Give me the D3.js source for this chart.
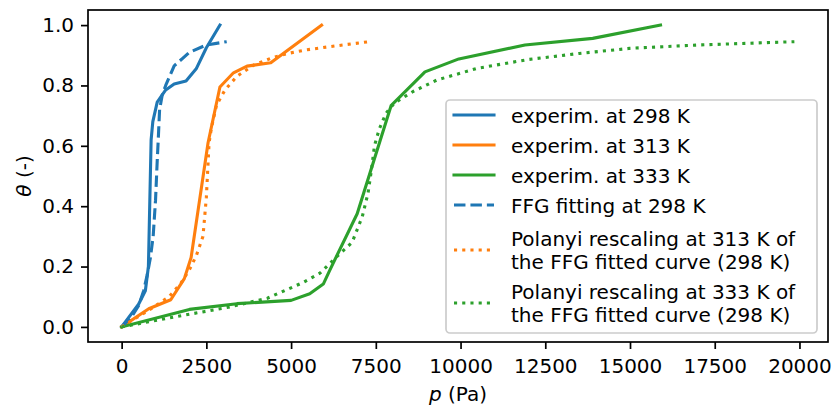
<!DOCTYPE html>
<html>
<head>
<meta charset="utf-8">
<script src="https://cdn.jsdelivr.net/npm/d3@7"></script>
<style>
  body { margin: 0; background: #fff; }
  text { font-family: "DejaVu Sans", sans-serif; }
</style>
</head>
<body>
<div id="chart"></div>
<script>
// Data (p in Pa, theta in -)
var p298 = [0, 500, 700, 790, 870, 920, 1050, 1300, 1550, 1900, 2200, 2500, 2900];
var theta298 = [0, 0.075, 0.12, 0.2, 0.62, 0.68, 0.745, 0.785, 0.805, 0.815, 0.855, 0.925, 1.0];

var p313 = [0, 800, 1450, 1850, 2050, 2550, 2900, 3300, 3700, 4400, 5900];
var theta313 = [0, 0.06, 0.09, 0.16, 0.23, 0.61, 0.795, 0.842, 0.864, 0.875, 1.0];

var p333 = [0, 2000, 3400, 5000, 5550, 5950, 6150, 6950, 7950, 8950, 9950, 11900, 13900, 15900];
var theta333 = [0, 0.058, 0.077, 0.088, 0.11, 0.142, 0.19, 0.375, 0.733, 0.845, 0.888, 0.934, 0.956, 1.0];

var pFit298 = [0, 300, 500, 650, 750, 850, 930, 1000, 1050, 1080, 1120, 1200, 1300, 1550, 1800, 2000, 2500, 3100];
var thetaFit298 = [0, 0.035, 0.07, 0.12, 0.17, 0.23, 0.3, 0.42, 0.55, 0.62, 0.72, 0.77, 0.8, 0.865, 0.89, 0.91, 0.934, 0.945];

var pPol313 = [0, 250, 800, 1400, 1750, 2000, 2200, 2400, 2500, 2580, 2650, 2800, 3050, 3400, 3900, 4400, 4900, 5400, 6100, 7300];
var thetaPol313 = [0, 0.018, 0.055, 0.1, 0.145, 0.19, 0.235, 0.3, 0.43, 0.61, 0.66, 0.735, 0.785, 0.83, 0.868, 0.89, 0.906, 0.917, 0.928, 0.945];

var pPol333 = [0, 1600, 3100, 4300, 5350, 5850, 6350, 6800, 7100, 7270, 7370, 7460, 7600, 7800, 8050, 8600, 9300, 10500, 12000, 13500, 15000, 17000, 19850];
var thetaPol333 = [0, 0.034, 0.064, 0.095, 0.147, 0.178, 0.233, 0.28, 0.365, 0.443, 0.52, 0.6, 0.655, 0.708, 0.742, 0.78, 0.818, 0.857, 0.886, 0.906, 0.923, 0.934, 0.945];

var xTicks = [0, 2500, 5000, 7500, 10000, 12500, 15000, 17500, 20000];
var yTicks = [0, 0.2, 0.4, 0.6, 0.8, 1.0];

var legendLabels = [
  ["experim. at 298 K"],
  ["experim. at 313 K"],
  ["experim. at 333 K"],
  ["FFG fitting at 298 K"],
  ["Polanyi rescaling at 313 K of", "the FFG fitted curve (298 K)"],
  ["Polanyi rescaling at 333 K of", "the FFG fitted curve (298 K)"]
];

// canvas
var width = 833;
var height = 407;

// plot box (note: "top" is taken by window.top, so prefix these)
var plotLeft = 88, plotRight = 828, plotTop = 10, plotBottom = 342;

var blue = "#1f77b4", orange = "#ff7f0e", green = "#2ca02c";
var lw = 3.1;
var dashed = (3.7 * lw) + "," + (1.6 * lw);
var dotted = (1 * lw) + "," + (1.65 * lw);

function zip(xs, ys) {
  return xs.map(function(x, i) { return [x, ys[i]]; });
}

// series in drawing order
var series = [
  { pts: zip(p298, theta298), color: blue, dash: null },
  { pts: zip(p313, theta313), color: orange, dash: null },
  { pts: zip(p333, theta333), color: green, dash: null },
  { pts: zip(pFit298, thetaFit298), color: blue, dash: dashed },
  { pts: zip(pPol313, thetaPol313), color: orange, dash: dotted },
  { pts: zip(pPol333, thetaPol333), color: green, dash: dotted }
];

var svg = d3
  .select("#chart")
  .append("svg")
  .attr("width", width)
  .attr("height", height);

// matplotlib style 5% margins
var xScale = d3.scaleLinear().domain([-992.5, 20842]).range([plotLeft, plotRight]);
var yScale = d3.scaleLinear().domain([-0.05, 1.05]).range([plotBottom, plotTop]);

var xAxis = d3.axisBottom(xScale)
  .tickValues(xTicks)
  .tickFormat(d3.format("d"))
  .tickSize(7)
  .tickPadding(10);
var yAxis = d3.axisLeft(yScale)
  .tickValues(yTicks)
  .tickFormat(d3.format(".1f"))
  .tickSize(7)
  .tickPadding(7);

var gx = svg.append("g")
  .attr("transform", "translate(0," + plotBottom + ")")
  .call(xAxis);
var gy = svg.append("g")
  .attr("transform", "translate(" + plotLeft + ",0)")
  .call(yAxis);

[gx, gy].forEach(function(g) {
  g.select(".domain").remove();
  g.selectAll(".tick line").attr("stroke", "#000").attr("stroke-width", 1.7);
  g.selectAll(".tick text")
    .attr("fill", "#000")
    .style("font-size", "20px")
    .style("font-family", "DejaVu Sans");
});

// lines
svg.append("clipPath").attr("id", "clip")
  .append("rect")
  .attr("x", plotLeft).attr("y", plotTop)
  .attr("width", plotRight - plotLeft).attr("height", plotBottom - plotTop);

var line = d3.line()
  .x(function(d) { return xScale(d[0]); })
  .y(function(d) { return yScale(d[1]); });

svg.append("g")
  .attr("clip-path", "url(#clip)")
  .selectAll("path")
  .data(series)
  .enter()
  .append("path")
  .attr("d", function(d) { return line(d.pts); })
  .attr("fill", "none")
  .attr("stroke", function(d) { return d.color; })
  .attr("stroke-width", lw)
  .attr("stroke-linejoin", "round")
  .attr("stroke-linecap", function(d) { return d.dash ? "butt" : "square"; })
  .attr("stroke-dasharray", function(d) { return d.dash; });

// frame
svg.append("rect")
  .attr("x", plotLeft).attr("y", plotTop)
  .attr("width", plotRight - plotLeft).attr("height", plotBottom - plotTop)
  .attr("fill", "none")
  .attr("stroke", "#000")
  .attr("stroke-width", 1.7);

// axis labels
var xLab = svg.append("text")
  .attr("x", (plotLeft + plotRight) / 2)
  .attr("y", 401)
  .attr("text-anchor", "middle")
  .style("font-size", "20px");
xLab.append("tspan").style("font-style", "italic").text("p");
xLab.append("tspan").text(" (Pa)");

var yLab = svg.append("text")
  .attr("transform", "translate(31," + ((plotTop + plotBottom) / 2) + ") rotate(-90)")
  .attr("text-anchor", "middle")
  .style("font-size", "20px");
yLab.append("tspan").style("font-style", "italic").text("θ");
yLab.append("tspan").text(" (-)");

// legend
var lgX = 446, lgY = 100, lgW = 371, lgH = 233;
var legend = svg.append("g");
legend.append("rect")
  .attr("x", lgX).attr("y", lgY)
  .attr("width", lgW).attr("height", lgH)
  .attr("rx", 4).attr("ry", 4)
  .attr("fill", "#fff")
  .attr("fill-opacity", 0.8)
  .attr("stroke", "#cccccc")
  .attr("stroke-width", 1.7);

var rowY = [115, 145, 175, 205, 250, 303];
series.forEach(function(s, i) {
  legend.append("line")
    .attr("x1", 454).attr("x2", 494)
    .attr("y1", rowY[i]).attr("y2", rowY[i])
    .attr("stroke", s.color)
    .attr("stroke-width", lw)
    .attr("stroke-linecap", s.dash ? "butt" : "square")
    .attr("stroke-dasharray", s.dash);
  var lines = legendLabels[i];
  var t = legend.append("text")
    .attr("x", 511)
    .style("font-size", "20px");
  lines.forEach(function(txt, j) {
    var base = rowY[i] + 7.5 - (lines.length - 1) * 11.7 + j * 23.4;
    t.append("tspan").attr("x", 511).attr("y", base).text(txt);
  });
});
</script>
</body>
</html>
